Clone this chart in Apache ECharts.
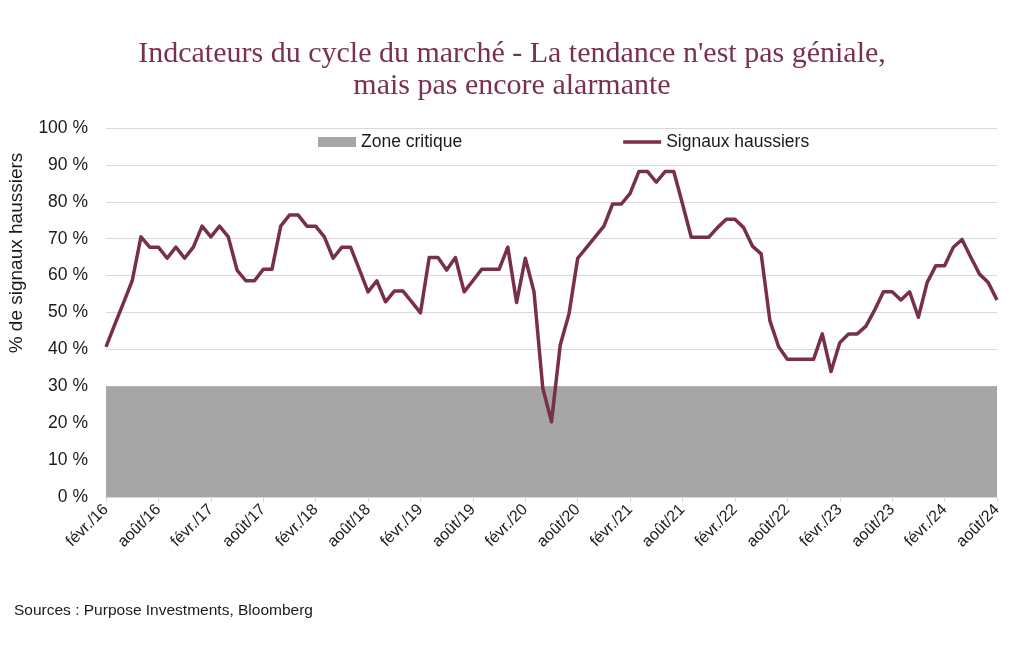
<!DOCTYPE html>
<html>
<head>
<meta charset="utf-8">
<script src="https://cdn.jsdelivr.net/npm/echarts@6/dist/echarts.min.js"></script>
<style>
html,body{margin:0;padding:0;background:#fff;}
#chart{width:1024px;height:645px;}
</style>
</head>
<body>
<div id="chart"></div>
<script>
// Monthly categories: févr./16 .. août/24
const MONTHS = ['janv.','févr.','mars','avr.','mai','juin','juil.','août','sept.','oct.','nov.','déc.'];
const categories = [];
for (let y = 2016; y <= 2024; y++) {
  for (let m = 0; m < 12; m++) {
    if (y === 2016 && m < 1) continue;
    if (y === 2024 && m > 7) continue;
    categories.push(MONTHS[m] + '/' + String(y).slice(2));
  }
}

// % de signaux haussiers
const signauxHaussiers = [
  40.7, 46.7, 52.6, 58.6, 70.5, 67.7, 67.7, 64.7, 67.7, 64.7,
  67.7, 73.4, 70.5, 73.4, 70.5, 61.5, 58.6, 58.6, 61.7, 61.7,
  73.4, 76.4, 76.4, 73.4, 73.4, 70.5, 64.7, 67.7, 67.7, 61.7,
  55.6, 58.6, 52.9, 55.8, 55.8, 52.9, 49.9, 64.9, 64.9, 61.5,
  64.9, 55.6, 58.6, 61.7, 61.7, 61.7, 67.7, 52.7, 64.7, 55.6,
  29.5, 20.4, 41.2, 49.6, 64.7, 67.6, 70.5, 73.4, 79.4, 79.4,
  82.3, 88.2, 88.2, 85.3, 88.2, 88.2, 79.4, 70.4, 70.4, 70.4,
  73.0, 75.3, 75.3, 73.0, 68.0, 65.9, 47.8, 40.7, 37.3, 37.3,
  37.3, 37.3, 44.2, 34.0, 41.8, 44.2, 44.2, 46.3, 50.7, 55.6,
  55.6, 53.4, 55.6, 48.7, 58.1, 62.7, 62.7, 67.7, 69.8, 65.0,
  60.4, 58.1, 53.4
];

// Critical zone upper bound (%)
const zoneCritique = 30;

const yTicks = [0, 10, 20, 30, 40, 50, 60, 70, 80, 90, 100];

const LINE_COLOR = '#772f4b';
const ZONE_COLOR = '#a6a6a6';
const TEXT_FONT = 'Liberation Sans, Arial, sans-serif';

const chart = echarts.init(document.getElementById('chart'), null, {renderer: 'canvas'});
chart.setOption({
  animation: false,
  backgroundColor: '#ffffff',
  title: {
    text: "Indcateurs du cycle du marché - La tendance n'est pas géniale,\nmais pas encore alarmante",
    left: 'center',
    top: 33,
    textStyle: {
      fontFamily: 'Liberation Serif, Times New Roman, serif',
      fontSize: 30,
      fontWeight: 'normal',
      color: '#7a3150',
      lineHeight: 32
    }
  },
  legend: {
    left: 313,
    top: 128,
    itemWidth: 38,
    itemHeight: 10,
    itemGap: 161,
    textStyle: {fontFamily: TEXT_FONT, fontSize: 17.5, color: '#1a1a1a'},
    data: [
      {name: 'Zone critique', icon: 'rect'},
      {name: 'Signaux haussiers', icon: 'path://M0,0 L38,0 L38,3.5 L0,3.5 Z'}
    ]
  },
  grid: {left: 106, right: 27, top: 128, bottom: 148, containLabel: false},
  xAxis: {
    type: 'category',
    data: categories,
    boundaryGap: false,
    axisLine: {show: true, lineStyle: {color: '#d9d9d9', width: 1}},
    axisTick: {show: true, interval: 5, length: 5, lineStyle: {color: '#d9d9d9'}},
    axisLabel: {
      interval: 5,
      rotate: 45,
      fontFamily: TEXT_FONT,
      fontSize: 16,
      color: '#1a1a1a',
      margin: 10
    },
    splitLine: {show: false}
  },
  yAxis: {
    type: 'value',
    min: yTicks[0],
    max: yTicks[yTicks.length - 1],
    interval: 10,
    axisLine: {show: false},
    axisTick: {show: false},
    axisLabel: {
      fontFamily: TEXT_FONT,
      fontSize: 17.5,
      color: '#1a1a1a',
      margin: 18,
      formatter: v => v + ' %'
    },
    splitLine: {show: true, lineStyle: {color: '#d9d9d9', width: 1}}
  },
  graphic: [
    {
      type: 'text',
      x: 17,
      y: 253,
      rotation: Math.PI / 2,
      style: {
        text: '% de signaux haussiers',
        fontFamily: TEXT_FONT,
        fontSize: 19,
        fill: '#1a1a1a',
        align: 'center',
        verticalAlign: 'middle'
      }
    },
    {
      type: 'text',
      left: 14,
      top: 603,
      style: {
        text: 'Sources : Purpose Investments, Bloomberg',
        fontFamily: TEXT_FONT,
        fontSize: 15.5,
        fill: '#1a1a1a'
      }
    }
  ],
  series: [
    {
      name: 'Zone critique',
      type: 'line',
      data: [],
      symbol: 'none',
      color: ZONE_COLOR,
      itemStyle: {color: ZONE_COLOR},
      lineStyle: {color: ZONE_COLOR},
      markArea: {
        silent: true,
        itemStyle: {color: ZONE_COLOR, opacity: 1},
        data: [[{yAxis: 0}, {yAxis: zoneCritique}]]
      },
      z: 1
    },
    {
      name: 'Signaux haussiers',
      type: 'line',
      data: signauxHaussiers,
      symbol: 'none',
      color: LINE_COLOR,
      lineStyle: {color: LINE_COLOR, width: 3.5, join: 'round'},
      z: 5
    }
  ]
});
</script>
</body>
</html>
